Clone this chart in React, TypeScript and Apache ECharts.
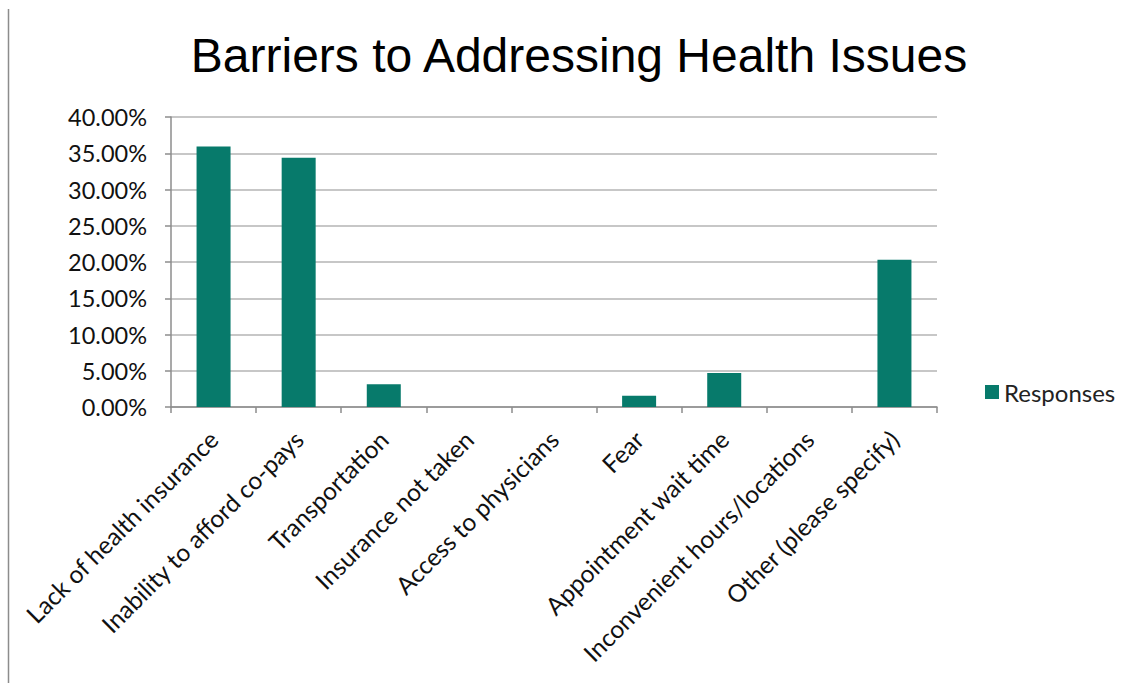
import React, { useEffect, useRef } from "react";
import * as echarts from "echarts";

const categories = [
  "Lack of health insurance",
  "Inability to afford co-pays",
  "Transportation",
  "Insurance not taken",
  "Access to physicians",
  "Fear",
  "Appointment wait time",
  "Inconvenient hours/locations",
  "Other (please specify)",
];
const responses = [35.94, 34.38, 3.13, 0, 0, 1.56, 4.69, 0, 20.31];
const seriesName = "Responses";
const titleText = "Barriers to Addressing Health Issues";

export default function App() {
  const ref = useRef<HTMLDivElement>(null);
  useEffect(() => {
    if (!ref.current) return;
    const chart = echarts.init(ref.current, null, { renderer: "svg" });
    const font = "Lato, 'Open Sans', sans-serif";
    chart.setOption({
      animation: false,
      backgroundColor: "#ffffff",
      title: {
        text: titleText,
        left: 574,
        top: 26,
        textAlign: "center",
        textStyle: {
          fontFamily: "'Liberation Sans', Arial, sans-serif",
          fontSize: 48,
          fontWeight: "normal",
          color: "#000000",
        },
      },
      legend: {
        data: [seriesName],
        left: 980,
        top: 375,
        icon: "rect",
        itemWidth: 14,
        itemHeight: 14,
        itemGap: 8,
        textStyle: { fontFamily: font, fontSize: 24, color: "#222222" },
      },
      graphic: [
        {
          type: "line",
          shape: { x1: 8.5, y1: 9, x2: 8.5, y2: 683 },
          style: { stroke: "#8c8c8c", lineWidth: 1.5 },
        },
      ],
      grid: { left: 171, right: 196, top: 117, bottom: 276, containLabel: false },
      xAxis: {
        type: "category",
        data: categories,
        boundaryGap: true,
        axisLine: { lineStyle: { color: "#8c8c8c", width: 1.5 } },
        axisTick: { show: true, length: 6, lineStyle: { color: "#8c8c8c", width: 1.5 } },
        axisLabel: {
          interval: 0,
          rotate: 45,
          margin: 28,
          fontFamily: font,
          fontSize: 24.5,
          color: "#111111",
        },
      },
      yAxis: {
        type: "value",
        min: 0,
        max: 40,
        interval: 5,
        axisLine: { show: true, lineStyle: { color: "#8c8c8c", width: 1.5 } },
        axisTick: { show: true, length: 6, lineStyle: { color: "#8c8c8c", width: 1.5 } },
        splitLine: { lineStyle: { color: "#b4b4b4", width: 1.5 } },
        axisLabel: {
          formatter: (v: number) => v.toFixed(2) + "%",
          fontFamily: font,
          fontSize: 23.5,
          color: "#111111",
          margin: 24,
        },
      },
      series: [
        {
          name: seriesName,
          type: "bar",
          data: responses,
          barWidth: 34,
          itemStyle: { color: "#077A6B" },
        },
      ],
    });
    return () => chart.dispose();
  }, []);
  return (
    <div
      ref={ref}
      style={{ position: "fixed", left: 0, top: 0, width: 1133, height: 683 }}
    />
  );
}
